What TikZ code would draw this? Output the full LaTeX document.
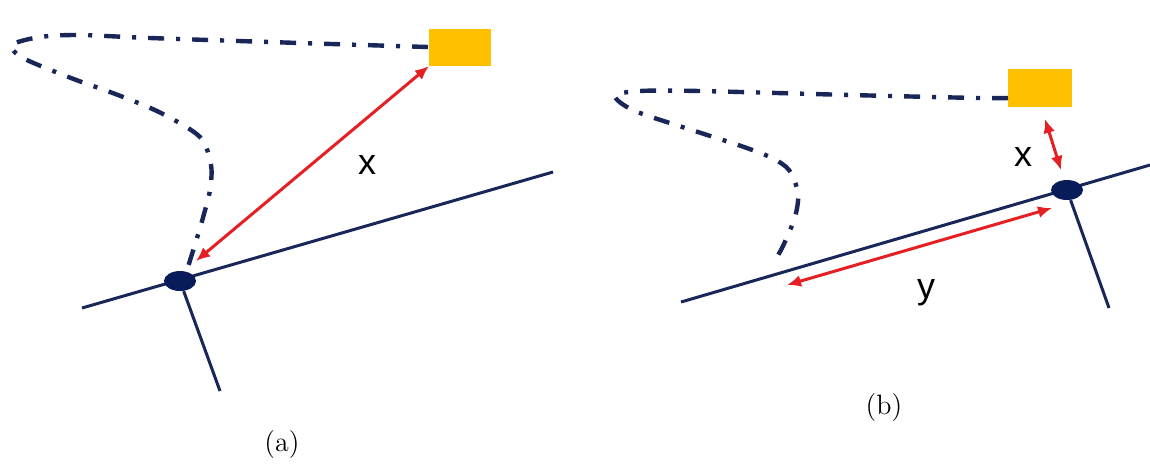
\documentclass[tikz,border=0pt]{standalone}
\usepackage{fontspec}
\usepackage{xcolor}
\usepackage{tikz}
\usetikzlibrary{arrows.meta,shapes.geometric}
\newfontfamily\labelfont{Liberation Sans}
\definecolor{navy}{RGB}{24,38,88}
\definecolor{deepnavy}{RGB}{8,28,90}
\definecolor{amber}{RGB}{255,192,0}
\definecolor{redline}{RGB}{228,32,36}

\begin{document}
\begin{tikzpicture}[x=0.5pt,y=-0.5pt,>={Latex[length=7pt,width=6pt]},
    rail/.style={draw=navy, line width=1.5pt},
    trackline/.style={draw=navy, line width=2.2pt, dash pattern=on 8pt off 6pt on 2pt off 6pt},
    target/.style={fill=amber, draw=none, inner sep=0pt},
    joint/.style={ellipse, fill=deepnavy, draw=none, minimum width=16pt, minimum height=10pt, inner sep=0pt},
    dist/.style={<->, draw=redline, line width=1.5pt},
    varlabel/.style={font=\labelfont\fontsize{18}{20}\selectfont, inner sep=0pt},
    caption/.style={font=\fontsize{14}{17}\selectfont, inner sep=0pt}]
    \useasboundingbox (0,0) rectangle (1150,463);

    % (a) target far from the joint
    \node[target, minimum width=31pt, minimum height=18.5pt] (tgtA) at (460,47) {};
    \draw[trackline] plot[smooth, tension=0.5] coordinates {(428,47) (300,43) (150,38) (80,35) (40,37) (12,45) (23,58) (71,78) (118,95) (161,113) (200,137) (211,165) (210,190) (204,214) (197,238) (187,270)};
    % Rail and arm
    \coordinate (railAw) at (82,308);
    \coordinate (railAe) at (553,172);
    \coordinate (legA) at (220,391);
    \draw[rail] (railAw) -- (railAe);
    \node[joint] (jntA) at (180,281) {};
    \draw[rail] (jntA) -- (legA);
    % Distance
    \coordinate (tipA) at (196,261);
    \coordinate (endA) at (429,66);
    \draw[dist] (tipA) -- (endA);
    \node[varlabel] (xA) at (367,165) {x};
    \node[caption] (capA) at (282,444) {(a)};

    % (b) target close to the joint
    \node[target, minimum width=32pt, minimum height=19pt] (tgtB) at (1040,88) {};
    \draw[trackline] plot[smooth, tension=0.5] coordinates {(1008,98) (978,98) (850,95) (700,91) (640,91) (615,96) (635,111) (698,132) (744,147) (772,158) (789,170) (798,193) (795,217) (783,246) (774,262)};
    % Rail and arm
    \coordinate (railBw) at (681,302);
    \coordinate (railBe) at (1150,165);
    \coordinate (legB) at (1109,308);
    \draw[rail] (railBw) -- (railBe);
    \node[joint] (jntB) at (1067,190) {};
    \draw[rail] (jntB) -- (legB);
    % Distances
    \coordinate (topB) at (1045,119);
    \coordinate (botB) at (1061,170);
    \draw[dist] (topB) -- (botB);
    \node[varlabel] (xB) at (1023,157) {x};
    \coordinate (yW) at (787,285);
    \coordinate (yE) at (1052,208);
    \draw[dist] (yW) -- (yE);
    \node[varlabel] (yB) at (926,293) {y};
    \node[caption] (capB) at (884,407) {(b)};
\end{tikzpicture}
\end{document}
